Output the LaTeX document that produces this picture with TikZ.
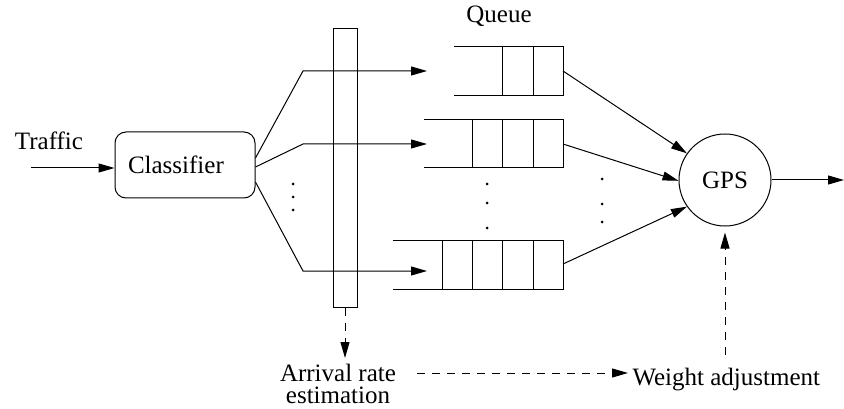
\documentclass[tikz,border=0pt]{standalone}
\usepackage{fontspec}
\setmainfont{Liberation Serif}
\usetikzlibrary{arrows.meta,calc}
\begin{document}
\begin{tikzpicture}[x=1pt,y=-1pt,line width=1pt,
  txt/.style={font=\fontsize{25}{22}\selectfont,inner sep=0pt},
  arr/.style={-{Triangle[length=16pt,width=9pt]}},
  dasharr/.style={arr,dash pattern=on 8pt off 7pt},
  dotmark/.style={circle,fill=black,inner sep=0pt,minimum size=3pt}]
\useasboundingbox (0,0) rectangle (844,409);

% nodes
\node[txt,anchor=base] (traffic) at (49,150) {Traffic};
\coordinate (tin) at (31,168);
\node[txt,draw,rounded corners=11pt,minimum height=66pt,text width=114pt,
      inner xsep=13pt,align=left] (cls) at (185,165) {Classifier};
\node[draw,minimum width=24pt,minimum height=278pt,inner sep=0pt] (est) at (345,168) {};
\node[txt,anchor=base] (qlabel) at (499,23) {Queue};
\node[txt,draw,circle,minimum size=92pt] (gps) at (725,180) {GPS};
\coordinate (out) at (844,180);
\node[txt,anchor=north,align=center] (arrl) at (338,364) {Arrival rate\\estimation};
\node[txt,anchor=base west] (wa) at (632,385) {Weight adjustment};

% queues
\draw (454,47) -- (563,47) -- (563,96) -- (454,96);
\draw (502,47) -- (502,96) (533,47) -- (533,96);
\draw (424,120) -- (563,120) -- (563,168) -- (424,168);
\draw (472,120) -- (472,168) (502,120) -- (502,168) (533,120) -- (533,168);
\draw (393,240) -- (563,240) -- (563,289) -- (393,289);
\draw (442,240) -- (442,289) (472,240) -- (472,289) (502,240) -- (502,289) (533,240) -- (533,289);
\coordinate (q1) at (563,71);
\coordinate (q2) at (563,144);
\coordinate (q3) at (563,264);

% branch points
\coordinate (b1) at (303,71);  \coordinate (a1) at (427,71);
\coordinate (b2) at (303,144); \coordinate (a2) at (427,144);
\coordinate (b3) at (303,271); \coordinate (a3) at (427,271);

% connectors
\draw[arr] (tin) -- (cls.west |- tin);
\draw[arr] ([yshift=7pt]cls.east) -- (b1) -- (a1);
\draw[arr] ([yshift=-2pt]cls.east) -- (b2) -- (a2);
\draw[arr] ([yshift=-17pt]cls.east) -- (b3) -- (a3);
\draw[arr] (q1) -- (gps.145);
\draw[arr] (q2) -- (gps.181);
\draw[arr] (q3) -- (gps.215);
\draw[arr] (gps.east) -- (out);

% dashed connectors
\draw[dasharr,shorten >=6pt] (est.south) -- (est.south |- arrl.north);
\coordinate (h1) at (417,373);
\coordinate (h2) at (628,373);
\draw[dasharr] (h1) -- (h2);
\draw[dasharr,shorten <=12pt,shorten >=6pt] (gps.south |- wa.north) -- (gps.south);

% dots
\foreach \y in {184,197,210} \node[dotmark] at (293,\y) {};
\foreach \y in {184,203,228} \node[dotmark] at (487,\y) {};
\foreach \y in {179,204,222} \node[dotmark] at (602,\y) {};
\end{tikzpicture}
\end{document}
